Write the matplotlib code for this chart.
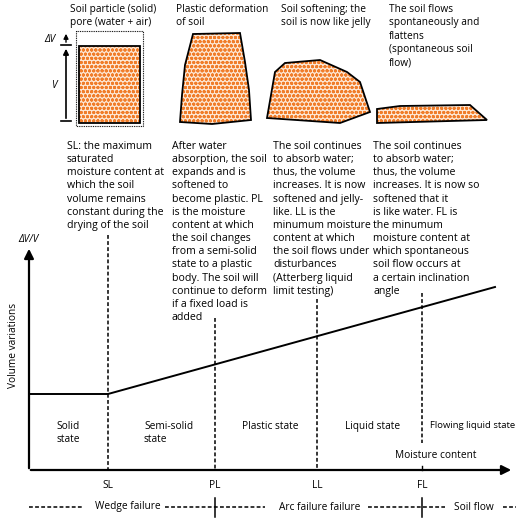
import matplotlib
matplotlib.use("Agg")
import matplotlib.pyplot as plt
from matplotlib.patches import Polygon, Rectangle

plt.rcParams['font.family'] = ['Open Sans', 'DejaVu Sans']
plt.rcParams['hatch.linewidth'] = 1.0

# data (pixel-like diagram units)
limit_labels = ['SL', 'PL', 'LL', 'FL']
limit_x = [108, 215, 317, 422]
limit_top = [235, 318, 299, 293]
curve_x = [29, 108, 495]
curve_y = [394, 394, 287]
states = ['Solid\nstate', 'Semi-solid\nstate', 'Plastic state', 'Liquid state', 'Flowing liquid state']
titles = ['Soil particle (solid)\npore (water + air)', 'Plastic deformation\nof soil',
          'Soil softening; the\nsoil is now like jelly',
          'The soil flows\nspontaneously and\nflattens\n(spontaneous soil\nflow)']
descs = [
    'SL: the maximum\nsaturated\nmoisture content at\nwhich the soil\nvolume remains\nconstant during the\ndrying of the soil',
    'After water\nabsorption, the soil\nexpands and is\nsoftened to\nbecome plastic. PL\nis the moisture\ncontent at which\nthe soil changes\nfrom a semi-solid\nstate to a plastic\nbody. The soil will\ncontinue to deform\nif a fixed load is\nadded',
    'The soil continues\nto absorb water;\nthus, the volume\nincreases. It is now\nsoftened and jelly-\nlike. LL is the\nminumum moisture\ncontent at which\nthe soil flows under\ndisturbances\n(Atterberg liquid\nlimit testing)',
    'The soil continues\nto absorb water;\nthus, the volume\nincreases. It is now so\nsoftened that it\nis like water. FL is\nthe minumum\nmoisture content at\nwhich spontaneous\nsoil flow occurs at\na certain inclination\nangle']
failures = ['Wedge failure', 'Arc failure failure', 'Soil flow']

fig = plt.figure(figsize=(5.2, 5.18), dpi=100)
ax = fig.add_axes([0, 0, 1, 1])
ax.set_xlim(0, 520); ax.set_ylim(518, 0); ax.axis('off')
fs = 7.3
fd = 7.6
orange = '#f07d2a'

def blob(pts):
    ax.add_patch(Polygon(pts, closed=True, facecolor='#fde6d2', edgecolor=orange, hatch='oooo', lw=0))
    ax.add_patch(Polygon(pts, closed=True, facecolor='none', edgecolor='black', lw=1.3))

# shapes
ax.add_patch(Rectangle((76, 31), 67, 95, fill=False, ls=(0, (0.8, 0.8)), lw=0.8))
blob([(79, 46), (140, 46), (140, 123), (79, 123)])
blob([(193, 34), (240, 33), (245, 62), (249, 90), (251, 120), (212, 124), (180, 122), (182, 95), (185, 65)])
blob([(267, 118), (275, 72), (285, 63), (320, 60), (347, 72), (360, 82), (370, 112), (340, 123)])
blob([(377, 109), (400, 106), (470, 105), (487, 120), (377, 123)])
ax.annotate('', xy=(66, 46), xytext=(66, 121), arrowprops=dict(arrowstyle='-|>', color='k', lw=1.2, mutation_scale=8))
ax.annotate('', xy=(66, 31), xytext=(66, 45), arrowprops=dict(arrowstyle='-|>', color='k', lw=1.0, mutation_scale=7))
ax.plot([61, 71], [121, 121], 'k', lw=1.2); ax.plot([61, 71], [45, 45], 'k', lw=1.2)
ax.text(56, 40, 'ΔV', fontsize=fs, style='italic', ha='right', va='center')
ax.text(57, 85, 'V', fontsize=fs, style='italic', ha='right', va='center')

for x, t in zip([70, 176, 281, 389], titles):
    ax.text(x, 4, t, fontsize=fs, va='top', ha='left', linespacing=1.3)
for x, t in zip([67, 172, 273, 373], descs):
    ax.text(x, 141, t, fontsize=fd, va='top', ha='left', linespacing=1.27)

# axes
ax.annotate('', xy=(29, 246), xytext=(29, 471), arrowprops=dict(arrowstyle='-|>', color='k', lw=1.6, mutation_scale=14))
ax.annotate('', xy=(514, 470), xytext=(28, 470), arrowprops=dict(arrowstyle='-|>', color='k', lw=1.6, mutation_scale=14))
ax.text(28, 239, 'ΔV/V', fontsize=fs, style='italic', ha='center', va='center')
ax.text(14, 345, 'Volume variations', fontsize=fs, rotation=90, ha='center', va='center')
ax.text(436, 455, 'Moisture content', fontsize=fs, ha='center', va='center')
ax.plot(curve_x, curve_y, 'k', lw=1.4)
for lab, x, top in zip(limit_labels, limit_x, limit_top):
    bot = 443 if lab == 'FL' else 470
    ax.plot([x, x], [top, bot], 'k', ls=(0, (2.5, 1.5)), lw=1.1)
    ax.text(x, 486, lab, fontsize=fs, ha='center', va='center')
ax.plot([422, 422], [466, 470], 'k', lw=1)
for (x, ha), s in zip([(68, 'center'), (144, 'left'), (270, 'center'), (373, 'center'), (430, 'left')], states):
    ax.text(x, 421, s, fontsize=(6.8 if s.startswith('Flowing') else fs), ha=ha, va='top', linespacing=1.3,
            multialignment='center' if ha == 'center' else 'left')

# failure row
fy = 507
for x0, x1 in [(29, 82), (165, 265), (368, 445), (503, 516)]:
    ax.plot([x0, x1], [fy, fy], 'k', ls=(0, (2.5, 1.5)), lw=1.1)
for x in [215, 422]:
    ax.plot([x, x], [498, 517], 'k', lw=1.1)
for x, s in zip([128, 320, 474], failures):
    ax.text(x, fy, s, fontsize=fs, ha='center', va='center')

fig.savefig('out.png', dpi=100)
